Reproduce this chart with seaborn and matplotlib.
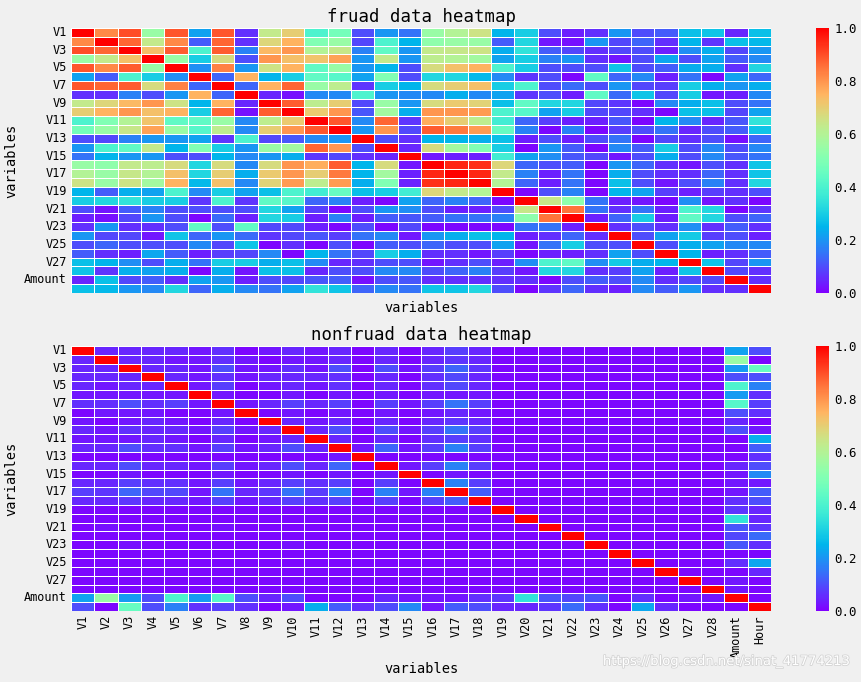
import numpy as np
import pandas as pd
import seaborn as sns
import matplotlib.pyplot as plt
import matplotlib.patheffects as pe

#Variable names used on both axes
variables = ['V%d' % i for i in range(1, 29)] + ['Amount', 'Hour']

#Absolute correlations, upper triangle only (row i, cols i..29)
fraud_upper = [
    [1.0, 0.82, 0.9, 0.55, 0.89, 0.22, 0.89, 0.06, 0.63, 0.7, 0.4, 0.48, 0.1, 0.2, 0.15, 0.55, 0.6, 0.65, 0.25, 0.3, 0.1, 0.04, 0.06, 0.2, 0.1, 0.12, 0.27, 0.28, 0.05, 0.27],
    [1.0, 0.87, 0.63, 0.82, 0.12, 0.87, 0.06, 0.68, 0.75, 0.5, 0.55, 0.09, 0.4, 0.25, 0.53, 0.55, 0.55, 0.12, 0.32, 0.03, 0.02, 0.2, 0.09, 0.13, 0.06, 0.25, 0.07, 0.27, 0.26],
    [1.0, 0.73, 0.88, 0.4, 0.88, 0.17, 0.74, 0.8, 0.6, 0.64, 0.17, 0.44, 0.2, 0.63, 0.64, 0.65, 0.24, 0.35, 0.12, 0.09, 0.06, 0.09, 0.1, 0.04, 0.19, 0.24, 0.09, 0.2],
    [1.0, 0.55, 0.3, 0.67, 0.1, 0.8, 0.73, 0.72, 0.78, 0.2, 0.63, 0.2, 0.62, 0.6, 0.57, 0.22, 0.3, 0.17, 0.2, 0.06, 0.03, 0.1, 0.23, 0.1, 0.22, 0.12, 0.18],
    [1.0, 0.19, 0.83, 0.2, 0.65, 0.75, 0.44, 0.55, 0.2, 0.25, 0.1, 0.67, 0.73, 0.75, 0.4, 0.3, 0.1, 0.1, 0.1, 0.28, 0.1, 0.12, 0.24, 0.24, 0.06, 0.32],
    [1.0, 0.13, 0.75, 0.25, 0.3, 0.44, 0.42, 0.22, 0.5, 0.1, 0.32, 0.32, 0.26, 0.18, 0.07, 0.1, 0.01, 0.44, 0.13, 0.18, 0.04, 0.15, 0.01, 0.22, 0.13],
    [1.0, 0.13, 0.75, 0.87, 0.55, 0.62, 0.07, 0.3, 0.25, 0.67, 0.7, 0.73, 0.3, 0.4, 0.1, 0.14, 0.1, 0.2, 0.09, 0.08, 0.3, 0.24, 0.2, 0.24],
    [1.0, 0.05, 0.02, 0.18, 0.18, 0.4, 0.2, 0.18, 0.18, 0.24, 0.18, 0.22, 0.07, 0.1, 0.04, 0.44, 0.14, 0.28, 0.09, 0.3, 0.03, 0.04, 0.18],
    [1.0, 0.88, 0.62, 0.7, 0.09, 0.55, 0.2, 0.67, 0.71, 0.69, 0.27, 0.44, 0.32, 0.32, 0.09, 0.07, 0.01, 0.18, 0.24, 0.27, 0.1, 0.15],
    [1.0, 0.71, 0.8, 0.11, 0.57, 0.24, 0.8, 0.8, 0.79, 0.4, 0.42, 0.22, 0.3, 0.09, 0.09, 0.06, 0.01, 0.27, 0.27, 0.09, 0.22],
    [1.0, 0.89, 0.18, 0.87, 0.07, 0.76, 0.7, 0.62, 0.38, 0.13, 0.08, 0.04, 0.04, 0.11, 0.01, 0.25, 0.18, 0.05, 0.11, 0.35],
    [1.0, 0.2, 0.8, 0.09, 0.88, 0.84, 0.79, 0.45, 0.17, 0.01, 0.17, 0.01, 0.08, 0.1, 0.15, 0.05, 0.1, 0.12, 0.28],
    [1.0, 0.1, 0.06, 0.25, 0.25, 0.24, 0.27, 0.04, 0.1, 0.04, 0.1, 0.15, 0.01, 0.09, 0.06, 0.1, 0.02, 0.13],
    [1.0, 0.05, 0.67, 0.57, 0.5, 0.3, 0.01, 0.2, 0.12, 0.01, 0.18, 0.12, 0.3, 0.1, 0.18, 0.1, 0.18],
    [1.0, 0.03, 0.04, 0.04, 0.38, 0.22, 0.19, 0.11, 0.09, 0.03, 0.1, 0.24, 0.1, 0.18, 0.11, 0.15],
    [1.0, 0.95, 0.94, 0.68, 0.13, 0.1, 0.12, 0.01, 0.2, 0.13, 0.06, 0.03, 0.1, 0.06, 0.28],
    [1.0, 0.95, 0.63, 0.17, 0.04, 0.15, 0.01, 0.24, 0.1, 0.06, 0.06, 0.13, 0.06, 0.28],
    [1.0, 0.6, 0.13, 0.04, 0.15, 0.01, 0.27, 0.1, 0.03, 0.1, 0.17, 0.06, 0.32],
    [1.0, 0.01, 0.1, 0.17, 0.01, 0.25, 0.22, 0.08, 0.04, 0.08, 0.06, 0.1],
    [1.0, 0.64, 0.53, 0.15, 0.04, 0.03, 0.01, 0.19, 0.03, 0.06, 0.01],
    [1.0, 0.85, 0.15, 0.06, 0.15, 0.04, 0.4, 0.32, 0.01, 0.07],
    [1.0, 0.04, 0.13, 0.3, 0.04, 0.44, 0.32, 0.1, 0.13],
    [1.0, 0.06, 0.1, 0.06, 0.19, 0.06, 0.12, 0.06],
    [1.0, 0.1, 0.22, 0.29, 0.08, 0.1, 0.04],
    [1.0, 0.1, 0.24, 0.22, 0.18, 0.18],
    [1.0, 0.25, 0.04, 0.06, 0.12],
    [1.0, 0.28, 0.09, 0.2],
    [1.0, 0.09, 0.06],
    [1.0, 0.06],
    [1.0],
]

nonfraud_upper = [
    [1.0, 0.05, 0.05, 0.05, 0.05, 0.03, 0.06, 0.01, 0.03, 0.05, 0.03, 0.05, 0.01, 0.05, 0.01, 0.05, 0.08, 0.05, 0.01, 0.01, 0.01, 0.01, 0.01, 0.01, 0.01, 0.01, 0.01, 0.01, 0.22, 0.1],
    [1.0, 0.05, 0.05, 0.03, 0.03, 0.06, 0.03, 0.01, 0.03, 0.03, 0.05, 0.01, 0.05, 0.01, 0.05, 0.07, 0.05, 0.01, 0.01, 0.02, 0.01, 0.01, 0.01, 0.01, 0.01, 0.01, 0.01, 0.55, 0.01],
    [1.0, 0.05, 0.05, 0.03, 0.1, 0.03, 0.03, 0.06, 0.03, 0.1, 0.01, 0.1, 0.03, 0.08, 0.13, 0.07, 0.01, 0.01, 0.01, 0.01, 0.02, 0.01, 0.01, 0.01, 0.01, 0.01, 0.21, 0.45],
    [1.0, 0.05, 0.03, 0.06, 0.03, 0.05, 0.05, 0.05, 0.06, 0.01, 0.05, 0.01, 0.06, 0.09, 0.05, 0.01, 0.01, 0.01, 0.01, 0.01, 0.01, 0.01, 0.01, 0.01, 0.01, 0.1, 0.1],
    [1.0, 0.03, 0.08, 0.01, 0.03, 0.05, 0.03, 0.06, 0.01, 0.05, 0.01, 0.06, 0.09, 0.05, 0.01, 0.01, 0.01, 0.01, 0.01, 0.01, 0.01, 0.01, 0.01, 0.01, 0.4, 0.17],
    [1.0, 0.03, 0.01, 0.01, 0.03, 0.01, 0.03, 0.01, 0.03, 0.01, 0.03, 0.03, 0.03, 0.01, 0.01, 0.01, 0.01, 0.01, 0.01, 0.01, 0.01, 0.01, 0.01, 0.21, 0.06],
    [1.0, 0.03, 0.05, 0.08, 0.05, 0.08, 0.01, 0.08, 0.03, 0.08, 0.15, 0.08, 0.01, 0.01, 0.02, 0.01, 0.01, 0.01, 0.01, 0.01, 0.01, 0.01, 0.42, 0.08],
    [1.0, 0.01, 0.03, 0.01, 0.03, 0.01, 0.03, 0.01, 0.03, 0.05, 0.03, 0.01, 0.01, 0.01, 0.01, 0.01, 0.01, 0.01, 0.01, 0.01, 0.01, 0.1, 0.06],
    [1.0, 0.05, 0.03, 0.05, 0.01, 0.05, 0.01, 0.05, 0.07, 0.05, 0.01, 0.01, 0.01, 0.01, 0.01, 0.01, 0.01, 0.01, 0.01, 0.01, 0.05, 0.01],
    [1.0, 0.05, 0.1, 0.01, 0.1, 0.03, 0.08, 0.15, 0.08, 0.01, 0.01, 0.01, 0.01, 0.02, 0.01, 0.01, 0.01, 0.01, 0.01, 0.1, 0.03],
    [1.0, 0.05, 0.01, 0.05, 0.01, 0.06, 0.08, 0.06, 0.01, 0.01, 0.01, 0.01, 0.01, 0.01, 0.01, 0.01, 0.01, 0.01, 0.01, 0.24],
    [1.0, 0.03, 0.13, 0.03, 0.08, 0.17, 0.08, 0.01, 0.01, 0.01, 0.01, 0.01, 0.01, 0.01, 0.01, 0.01, 0.01, 0.01, 0.12],
    [1.0, 0.01, 0.01, 0.01, 0.01, 0.01, 0.01, 0.01, 0.01, 0.01, 0.01, 0.01, 0.01, 0.01, 0.01, 0.01, 0.01, 0.06],
    [1.0, 0.03, 0.08, 0.17, 0.08, 0.01, 0.01, 0.01, 0.01, 0.01, 0.01, 0.01, 0.01, 0.01, 0.01, 0.05, 0.1],
    [1.0, 0.01, 0.03, 0.01, 0.01, 0.01, 0.01, 0.01, 0.01, 0.01, 0.01, 0.01, 0.01, 0.01, 0.03, 0.18],
    [1.0, 0.17, 0.08, 0.01, 0.01, 0.01, 0.01, 0.01, 0.01, 0.01, 0.01, 0.01, 0.01, 0.03, 0.03],
    [1.0, 0.12, 0.01, 0.01, 0.01, 0.01, 0.01, 0.01, 0.01, 0.01, 0.01, 0.01, 0.03, 0.12],
    [1.0, 0.01, 0.01, 0.01, 0.01, 0.01, 0.01, 0.01, 0.01, 0.01, 0.01, 0.06, 0.1],
    [1.0, 0.01, 0.01, 0.01, 0.01, 0.01, 0.01, 0.01, 0.01, 0.01, 0.07, 0.05],
    [1.0, 0.01, 0.01, 0.01, 0.01, 0.01, 0.01, 0.01, 0.01, 0.35, 0.05],
    [1.0, 0.01, 0.01, 0.01, 0.01, 0.01, 0.01, 0.01, 0.11, 0.07],
    [1.0, 0.01, 0.01, 0.01, 0.01, 0.01, 0.01, 0.09, 0.14],
    [1.0, 0.01, 0.01, 0.01, 0.01, 0.01, 0.11, 0.06],
    [1.0, 0.01, 0.01, 0.01, 0.01, 0.01, 0.01],
    [1.0, 0.01, 0.01, 0.01, 0.06, 0.23],
    [1.0, 0.01, 0.01, 0.01, 0.05],
    [1.0, 0.01, 0.03, 0.01],
    [1.0, 0.03, 0.01],
    [1.0, 0.01],
    [1.0],
]

#Mirror the upper triangle into a full symmetric dataframe
def full_matrix(upper):
    n = len(upper)
    m = np.zeros((n, n))
    for i, row in enumerate(upper):
        assert len(row) == n - i, (i, len(row))
        m[i, i:] = row
        m[i:, i] = row
    return pd.DataFrame(m, index=variables, columns=variables)

fraud_corr = full_matrix(fraud_upper)
nonfraud_corr = full_matrix(nonfraud_upper)

plt.rcParams['font.family'] = ['DejaVu Sans Mono']

fig = plt.figure(figsize=(8.61, 6.82), dpi=100, facecolor='#f0f0f0')
ax1 = fig.add_axes([0.0825, 0.5704, 0.813, 0.3886])
cax1 = fig.add_axes([0.9477, 0.5704, 0.0151, 0.3886])
ax2 = fig.add_axes([0.0825, 0.1041, 0.813, 0.3886])
cax2 = fig.add_axes([0.9477, 0.1041, 0.0151, 0.3886])

#Top heatmap: fraud
sns.heatmap(fraud_corr, ax=ax1, cbar_ax=cax1, cmap='rainbow', vmin=0, vmax=1,
            linewidths=0.6, linecolor='white', xticklabels=False, yticklabels=2)
ax1.set_title('fruad data heatmap', fontsize=12.5, pad=4)
ax1.set_xlabel('variables', fontsize=9.8, labelpad=6)
ax1.set_ylabel('variables', fontsize=9.8, labelpad=4)

#Bottom heatmap: nonfraud
sns.heatmap(nonfraud_corr, ax=ax2, cbar_ax=cax2, cmap='rainbow', vmin=0, vmax=1,
            linewidths=0.6, linecolor='white', xticklabels=1, yticklabels=2)
ax2.set_title('nonfruad data heatmap', fontsize=12.5, pad=4)
ax2.set_xlabel('variables', fontsize=9.8, labelpad=3)
ax2.set_ylabel('variables', fontsize=9.8, labelpad=4)

for ax in [ax1, ax2]:
    ax.set_facecolor('#f0f0f0')
    ax.tick_params(length=0, pad=3, labelsize=8.6)
    plt.setp(ax.get_yticklabels(), rotation=0)
plt.setp(ax2.get_xticklabels(), rotation=90)

for cax in [cax1, cax2]:
    cax.set_yticks([0.0, 0.2, 0.4, 0.6, 0.8, 1.0])
    cax.tick_params(length=0, pad=4, labelsize=9)

#Blog watermark
fig.text(0.99, 0.03, 'https://blog.csdn.net/sinat_41774213', ha='right', va='center',
         fontsize=9.5, family='DejaVu Sans', color='white',
         path_effects=[pe.withStroke(linewidth=1.2, foreground='#d4d4d4')])

plt.savefig('out.png', facecolor=fig.get_facecolor())
